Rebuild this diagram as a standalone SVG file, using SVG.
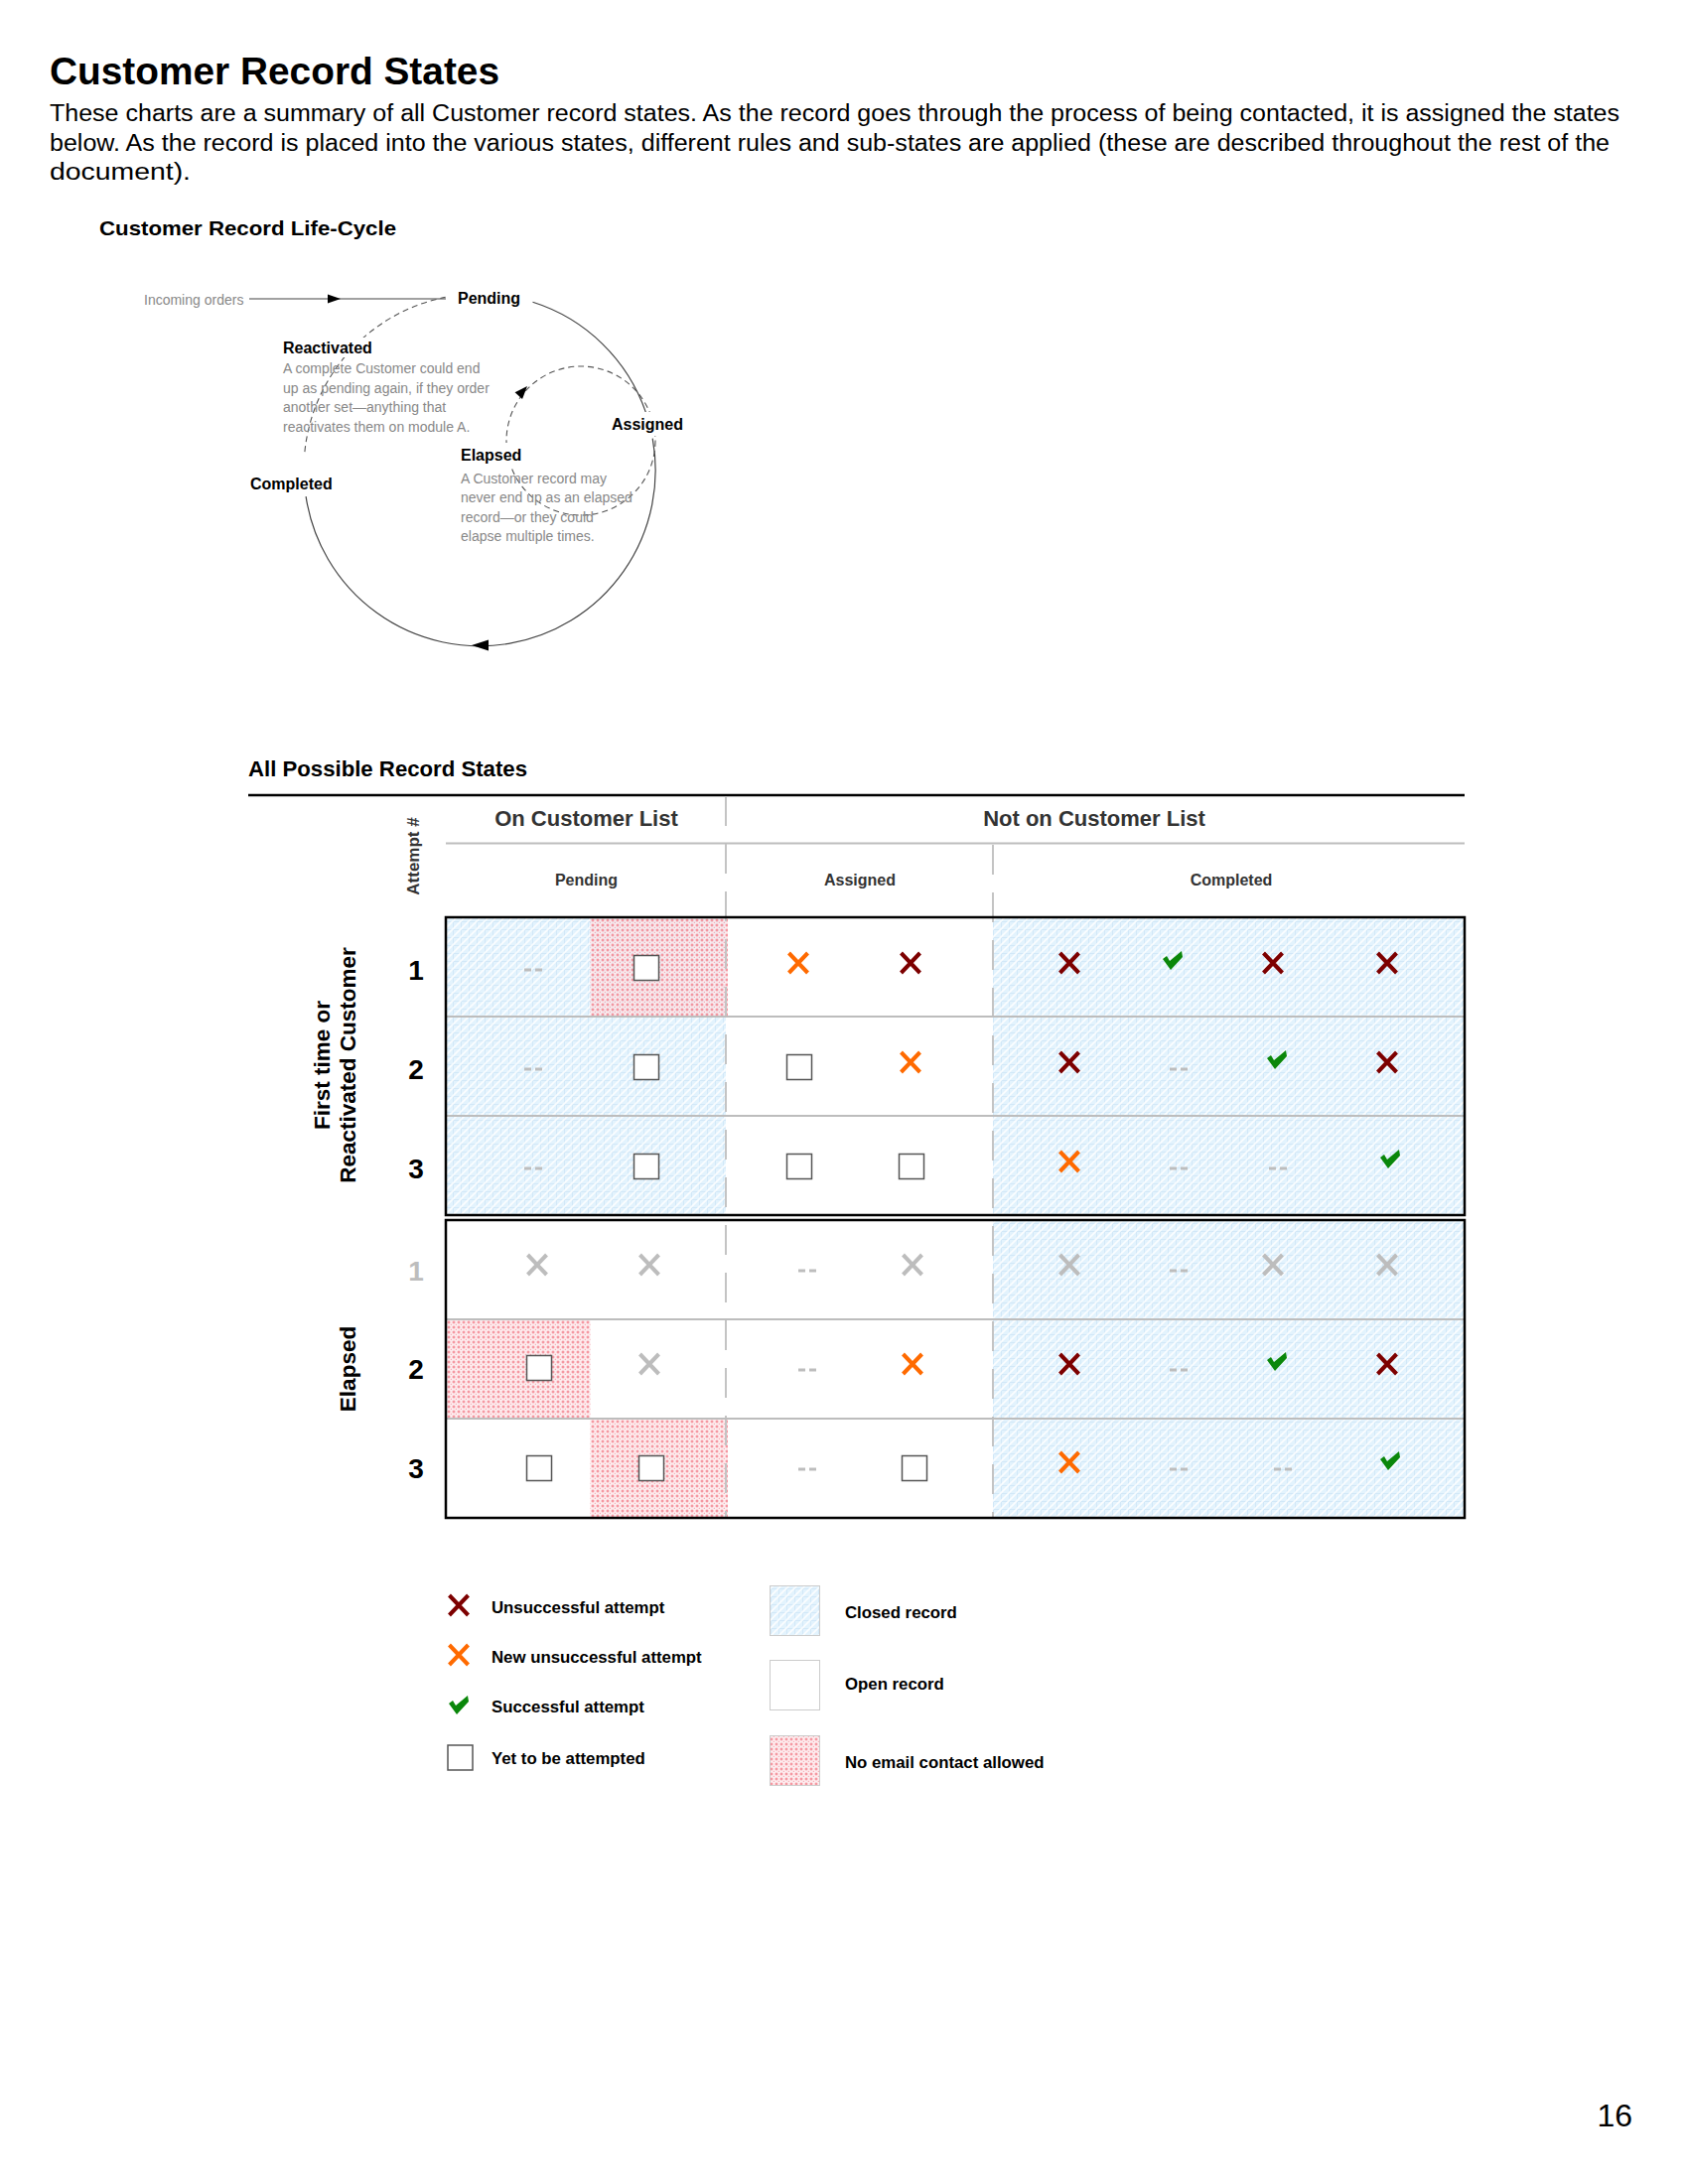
<svg xmlns="http://www.w3.org/2000/svg" xmlns:xlink="http://www.w3.org/1999/xlink" width="1700" height="2200" viewBox="0 0 1700 2200">
<style>
text{font-family:"Liberation Sans",Arial,sans-serif;}
.h1{font-size:38px;font-weight:bold;fill:#000;}
.p{font-size:23.5px;fill:#000;}
.h2{font-size:20.5px;font-weight:bold;fill:#000;}
.h3{font-size:22px;font-weight:bold;fill:#000;}
.lbl{font-size:16px;font-weight:bold;fill:#000;}
.desc{font-size:14px;fill:#888;}
.grp{font-size:22px;font-weight:bold;fill:#333;text-anchor:middle;}
.sub{font-size:16px;font-weight:bold;fill:#333;text-anchor:middle;}
.att{font-size:17px;font-weight:bold;fill:#333;text-anchor:middle;}
.num{font-size:28px;font-weight:bold;fill:#000;text-anchor:middle;}
.side{font-size:22.5px;font-weight:bold;fill:#000;text-anchor:middle;}
.leg{font-size:16.8px;font-weight:bold;fill:#000;}
.xr{stroke:#7d0000;}
.xo{stroke:#ff6a00;}
.xg{stroke:#bdbdbd;}
.ln{fill:none;stroke:#444;stroke-width:1.2;}
.dl{fill:none;stroke:#555;stroke-width:1.1;stroke-dasharray:6 4;}
.rowln{stroke:#bdbdbd;stroke-width:2;}
.vdiv{stroke:#c4c4c4;stroke-width:2;stroke-dasharray:30 18;}
.box{fill:none;stroke:#000;stroke-width:2.5;}
.sw{stroke:#cccccc;stroke-width:1;}
</style>
<defs>
<pattern id="pClosed" width="16" height="16" patternUnits="userSpaceOnUse">
<rect width="16" height="16" fill="#e3f3fd"/>
<path d="M0 .5H16M.5 0V16M0 8.5H16M8.5 0V16" stroke="#d2e8f8" stroke-width="1"/>
<path d="M-2 2L2-2M-2 10L10-2M-2 18L18-2M6 18L18 6M14 18L18 14" stroke="#ffffff" stroke-width="1.6" stroke-opacity=".85"/>
</pattern>
<pattern id="pPink" width="5" height="5" patternUnits="userSpaceOnUse">
<rect width="5" height="5" fill="#fde6e9" fill-opacity=".7"/>
<path d="M0.5 2H3.5M2 0.5V3.5" stroke="#f06676" stroke-width="1" stroke-opacity=".8"/>
<rect x="3.8" y="3.8" width="1" height="1" fill="#f06676" fill-opacity=".7"/>
</pattern>
<g id="ix"><path d="M-9.5-10L9.5 10M9.5-10L-9.5 10" fill="none" stroke-width="4"/></g>
<path id="ick" d="M-10-2L-6-5L-3 0L9-10L10-4L-2 9Z" fill="#0a870a"/>
<rect id="ibox" x="-12.5" y="-12.5" width="25" height="25" fill="#fff" stroke="#555" stroke-width="1.5"/>
<g id="idash"><rect x="-9" y="-1.5" width="7" height="3" fill="#bdbdbd"/><rect x="2" y="-1.5" width="7" height="3" fill="#bdbdbd"/></g>
</defs>
<rect width="1700" height="2200" fill="#fff"/>

<g id="header">
<text class="h1" x="50" y="85" textLength="453" lengthAdjust="spacingAndGlyphs">Customer Record States</text>
<text class="p" x="50" y="122" textLength="1581" lengthAdjust="spacingAndGlyphs">These charts are a summary of all Customer record states. As the record goes through the process of being contacted, it is assigned the states</text>
<text class="p" x="50" y="151.5" textLength="1571" lengthAdjust="spacingAndGlyphs">below. As the record is placed into the various states, different rules and sub-states are applied (these are described throughout the rest of the</text>
<text class="p" x="50" y="181" textLength="142" lengthAdjust="spacingAndGlyphs">document).</text>
<text class="h2" x="100" y="237" textLength="299" lengthAdjust="spacingAndGlyphs">Customer Record Life-Cycle</text>
</g>

<g id="lifecycle-connectors">
<path class="ln" d="M251 301H449"/>
<polygon points="343,301 330,296.5 330,305.5" fill="#000"/>
<path class="ln" d="M536.5 304.3A177 177 0 0 1 650.4 415.4"/>
<path class="ln" d="M657.2 441.7A177 177 0 1 1 308.1 500.1"/>
<polygon points="475,650 492,644.5 492,655.5" fill="#000"/>
<path class="dl" d="M306.9 455.1A177 177 0 0 1 448.6 299.4"/>
<circle class="dl" cx="585" cy="444" r="75"/>
<polygon points="0,0 -13,-5 -13,5" fill="#000" transform="translate(531,389) rotate(-48)"/>
</g>

<g id="node-incoming"><text class="desc" x="145" y="307">Incoming orders</text></g>
<g id="node-pending"><text class="lbl" x="461" y="306">Pending</text></g>
<g id="node-assigned"><rect x="613" y="415" width="80" height="24" fill="#fff"/><text class="lbl" x="616" y="432.5">Assigned</text></g>
<g id="node-completed"><text class="lbl" x="252" y="492.5">Completed</text></g>
<g id="node-reactivated"><rect x="282" y="340" width="101" height="20" fill="#fff"/><text class="lbl" x="285" y="355.5">Reactivated</text>
<text class="desc" x="285" y="376">A complete Customer could end</text>
<text class="desc" x="285" y="395.5">up as pending again, if they order</text>
<text class="desc" x="285" y="415">another set—anything that</text>
<text class="desc" x="285" y="434.5">reactivates them on module A.</text></g>
<g id="node-elapsed"><rect x="461" y="446" width="68" height="23" fill="#fff"/><text class="lbl" x="464" y="464">Elapsed</text>
<text class="desc" x="464" y="486.5">A Customer record may</text>
<text class="desc" x="464" y="506">never end up as an elapsed</text>
<text class="desc" x="464" y="525.5">record—or they could</text>
<text class="desc" x="464" y="545">elapse multiple times.</text></g>

<g id="table">
<text class="h3" x="250" y="782" textLength="281" lengthAdjust="spacingAndGlyphs">All Possible Record States</text>
<g id="table-backgrounds">
<rect x="449" y="924" width="282" height="300" fill="url(#pClosed)"/>
<rect x="1000" y="924" width="475" height="300" fill="url(#pClosed)"/>
<rect x="594.5" y="924" width="138.5" height="100" fill="url(#pPink)"/>
<rect x="1000" y="1229" width="475" height="300" fill="url(#pClosed)"/>
<rect x="449" y="1329" width="145.5" height="100" fill="url(#pPink)"/>
<rect x="594.5" y="1429" width="138.5" height="100" fill="url(#pPink)"/>
</g>
<g id="table-lines">
<line x1="250" y1="801" x2="1475" y2="801" stroke="#000" stroke-width="2.5"/>
<line x1="449" y1="849.5" x2="1475" y2="849.5" class="rowln"/>
<line x1="731" y1="802" x2="731" y2="1529" class="vdiv"/>
<line x1="1000" y1="851" x2="1000" y2="1529" class="vdiv"/>
<line x1="449" y1="1024" x2="1475" y2="1024" class="rowln"/>
<line x1="449" y1="1124" x2="1475" y2="1124" class="rowln"/>
<line x1="449" y1="1329" x2="1475" y2="1329" class="rowln"/>
<line x1="449" y1="1429" x2="1475" y2="1429" class="rowln"/>
<rect class="box" x="449" y="924" width="1026" height="300"/>
<rect class="box" x="449" y="1229" width="1026" height="300"/>
</g>
<g id="table-headers">
<text class="grp" x="590.5" y="832">On Customer List</text>
<text class="grp" x="1102" y="832">Not on Customer List</text>
<text class="sub" x="590.5" y="892">Pending</text>
<text class="sub" x="866" y="892">Assigned</text>
<text class="sub" x="1240" y="892">Completed</text>
<text class="att" transform="translate(421.5 862.5) rotate(-90)">Attempt #</text>
</g>
<g id="row-labels">
<text class="side" transform="translate(331.5 1073) rotate(-90)">First time or</text>
<text class="side" transform="translate(358 1073) rotate(-90)">Reactivated Customer</text>
<text class="side" transform="translate(358 1379) rotate(-90)">Elapsed</text>
<text class="num" x="419" y="987">1</text>
<text class="num" x="419" y="1087">2</text>
<text class="num" x="419" y="1187">3</text>
<text class="num" x="419" y="1290" style="fill:#bdbdbd">1</text>
<text class="num" x="419" y="1389">2</text>
<text class="num" x="419" y="1489">3</text>
</g>
<g id="cells">
<use href="#idash" x="537" y="977"/><use href="#ibox" x="651" y="975"/><use href="#ix" class="xo" x="804" y="970"/><use href="#ix" class="xr" x="917" y="970"/>
<use href="#ix" class="xr" x="1077" y="970"/><use href="#ick" x="1181" y="968"/><use href="#ix" class="xr" x="1282" y="970"/><use href="#ix" class="xr" x="1397" y="970"/>

<use href="#idash" x="537" y="1077"/><use href="#ibox" x="651" y="1075"/><use href="#ibox" x="805" y="1075"/><use href="#ix" class="xo" x="917" y="1070"/>
<use href="#ix" class="xr" x="1077" y="1070"/><use href="#idash" x="1187" y="1077"/><use href="#ick" x="1286" y="1068"/><use href="#ix" class="xr" x="1397" y="1070"/>

<use href="#idash" x="537" y="1177"/><use href="#ibox" x="651" y="1175"/><use href="#ibox" x="805" y="1175"/><use href="#ibox" x="918" y="1175"/>
<use href="#ix" class="xo" x="1077" y="1170"/><use href="#idash" x="1187" y="1177"/><use href="#idash" x="1287" y="1177"/><use href="#ick" x="1400" y="1168"/>

<use href="#ix" class="xg" x="541" y="1274"/><use href="#ix" class="xg" x="654" y="1274"/><use href="#idash" x="813" y="1280"/><use href="#ix" class="xg" x="919" y="1274"/>
<use href="#ix" class="xg" x="1077" y="1274"/><use href="#idash" x="1187" y="1280"/><use href="#ix" class="xg" x="1282" y="1274"/><use href="#ix" class="xg" x="1397" y="1274"/>

<use href="#ibox" x="543" y="1378"/><use href="#ix" class="xg" x="654" y="1374"/><use href="#idash" x="813" y="1380"/><use href="#ix" class="xo" x="919" y="1374"/>
<use href="#ix" class="xr" x="1077" y="1374"/><use href="#idash" x="1187" y="1380"/><use href="#ick" x="1286" y="1372"/><use href="#ix" class="xr" x="1397" y="1374"/>

<use href="#ibox" x="543" y="1479"/><use href="#ibox" x="656" y="1479"/><use href="#idash" x="813" y="1480"/><use href="#ibox" x="921" y="1479"/>
<use href="#ix" class="xo" x="1077" y="1473"/><use href="#idash" x="1187" y="1480"/><use href="#idash" x="1292" y="1480"/><use href="#ick" x="1400" y="1472"/>
</g>
</g>

<g id="legend">
<use href="#ix" class="xr" x="462" y="1617"/>
<text class="leg" x="495" y="1625">Unsuccessful attempt</text>
<use href="#ix" class="xo" x="462" y="1667"/>
<text class="leg" x="495" y="1675">New unsuccessful attempt</text>
<use href="#ick" x="462" y="1718"/>
<text class="leg" x="495" y="1725">Successful attempt</text>
<use href="#ibox" x="463.5" y="1770.5"/>
<text class="leg" x="495" y="1777">Yet to be attempted</text>
<rect class="sw" x="775.5" y="1597.5" width="50" height="50" fill="url(#pClosed)"/>
<text class="leg" x="851" y="1630">Closed record</text>
<rect class="sw" x="775.5" y="1672.5" width="50" height="50" fill="#fff"/>
<text class="leg" x="851" y="1702">Open record</text>
<rect x="775.5" y="1748.5" width="50" height="50" fill="#fff"/>
<rect class="sw" x="775.5" y="1748.5" width="50" height="50" fill="url(#pPink)"/>
<text class="leg" x="851" y="1781">No email contact allowed</text>
</g>

<text x="1644" y="2142" font-size="32" text-anchor="end" fill="#000">16</text>
</svg>
